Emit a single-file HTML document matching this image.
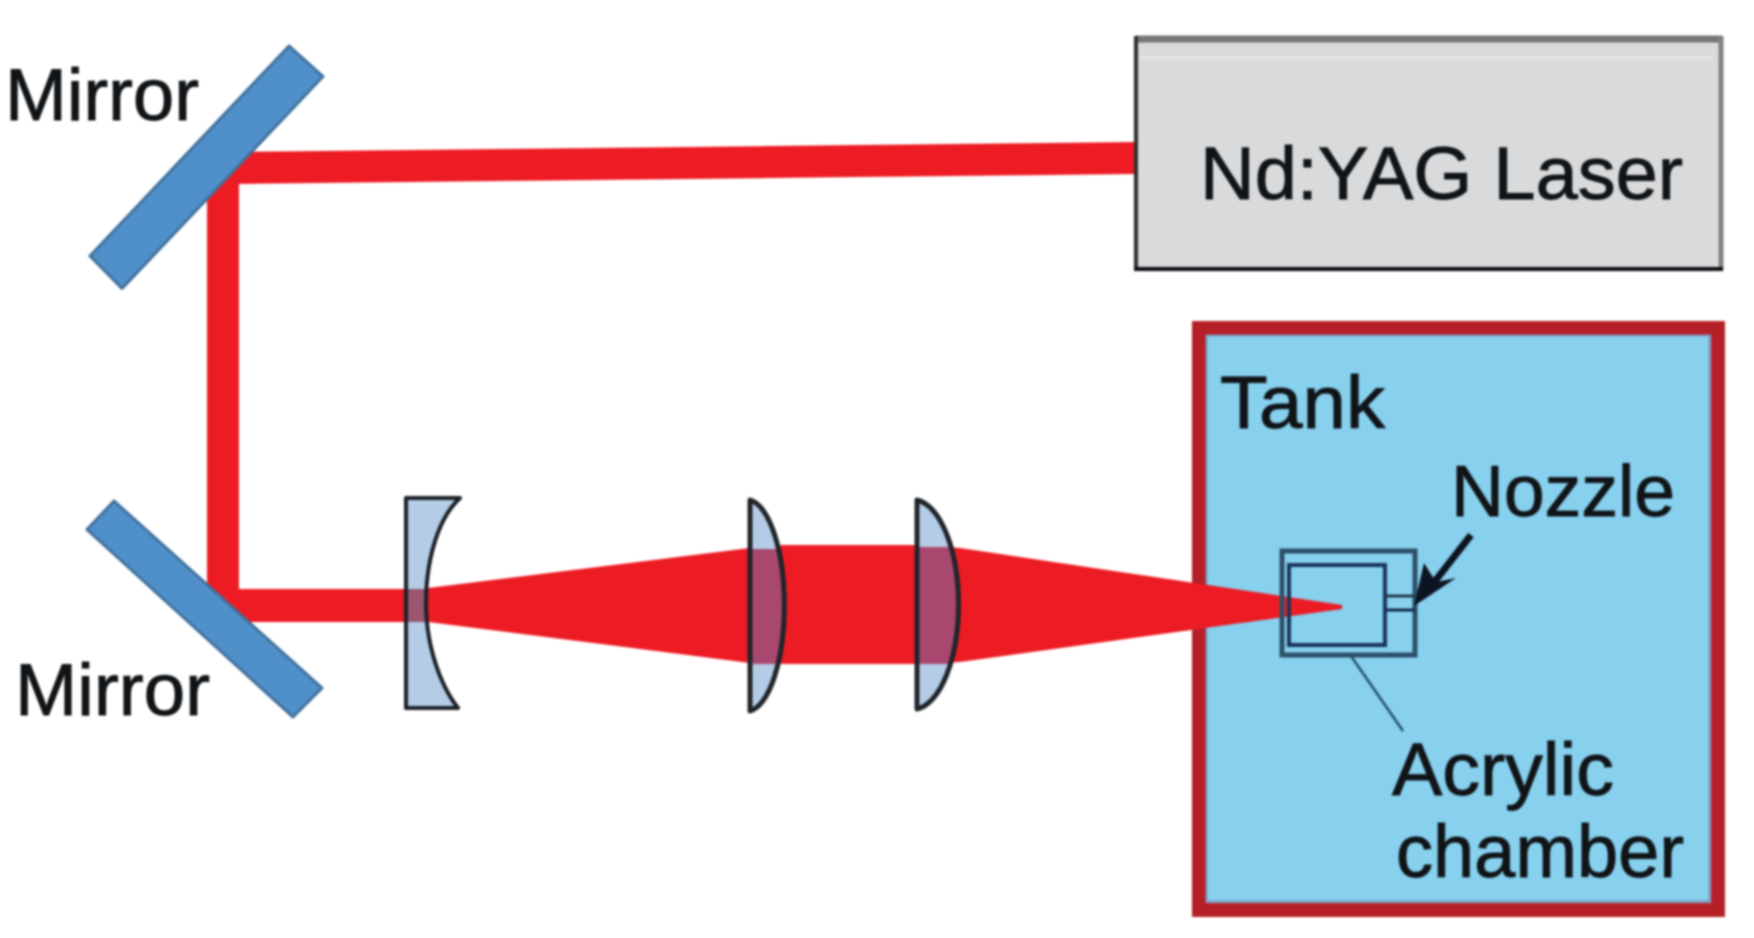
<!DOCTYPE html>
<html>
<head>
<meta charset="utf-8">
<style>
html,body{margin:0;padding:0;background:#fff;width:1754px;height:938px;overflow:hidden}
svg{display:block;filter:blur(1.1px)}
text{font-family:"Liberation Sans",Arial,sans-serif;fill:#101417;stroke:#101417;stroke-width:.9px}
</style>
</head>
<body>
<svg width="1754" height="938" viewBox="0 0 1754 938" xmlns="http://www.w3.org/2000/svg">
<defs>
<clipPath id="l1"><path d="M406 498L460 498C436 520 426 565 426 603C426 645 440 685 458 708L406 708Z"/></clipPath>
<clipPath id="l2"><path d="M750 500A38 106 0 0 1 750 711Z"/></clipPath>
<clipPath id="l3"><path d="M917 500A46 105 0 0 1 917 709Z"/></clipPath>
</defs>
<rect width="1754" height="938" fill="#fff"/>
<!-- Beam -->
<path d="M232 152L1136 142L1136 174L232 184Z" fill="#ed1c24"/>
<rect x="207" y="165" width="32" height="440" fill="#ed1c24"/>
<rect x="212" y="589" width="220" height="33" fill="#ed1c24"/>
<!-- Laser box -->
<rect x="1137" y="38" width="584" height="231" fill="#d9dadb"/>
<line x1="1136" y1="39" x2="1722" y2="39" stroke="#757877" stroke-width="7"/>
<line x1="1721" y1="36" x2="1721" y2="270" stroke="#808283" stroke-width="5"/>
<line x1="1136" y1="36" x2="1136" y2="270" stroke="#2b2d2f" stroke-width="4"/>
<line x1="1134" y1="269" x2="1723" y2="269" stroke="#0c0a0f" stroke-width="4"/>
<rect x="1141" y="56" width="572" height="3" fill="#e6e7e7"/>
<text x="1200" y="199" font-size="74" textLength="483" lengthAdjust="spacingAndGlyphs">Nd:YAG Laser</text>
<!-- Tank -->
<rect x="1199" y="328" width="519" height="582" fill="#87d0ee" stroke="#b51f27" stroke-width="14"/>
<rect x="1206.500" y="335.500" width="503" height="566" fill="none" stroke="#7d97bb" stroke-width="2"/>
<!-- Focused beam -->
<path d="M428 588L750 548L784 545L915 545L960 548L1342 605L1342 609L960 662L915 664L784 664L750 663L428 622Z" fill="#ed1c24"/>
<!-- Mirrors -->
<path d="M289 46L323 76.500L122 288.500L90 256Z" fill="#4f90cb" stroke="#41719c" stroke-width="3" stroke-linejoin="round"/>
<path d="M114 501L322 688L293 717L87 529.500Z" fill="#4f90cb" stroke="#41719c" stroke-width="3" stroke-linejoin="round"/>
<!-- Lenses -->
<path d="M406 498L460 498C436 520 426 565 426 603C426 645 440 685 458 708L406 708Z" fill="#b4cce6"/>
<rect x="400" y="589" width="40" height="33" fill="#9a5570" clip-path="url(#l1)"/>
<path d="M406 498L460 498C436 520 426 565 426 603C426 645 440 685 458 708L406 708Z" fill="none" stroke="#1a2027" stroke-width="4" stroke-linejoin="round"/>
<path d="M750 500A38 106 0 0 1 750 711Z" fill="#b4cce6"/>
<rect x="745" y="549" width="50" height="115" fill="#a9486f" clip-path="url(#l2)"/>
<path d="M750 500A38 106 0 0 1 750 711Z" fill="none" stroke="#20242a" stroke-width="5" stroke-linejoin="round"/>
<path d="M917 500A46 105 0 0 1 917 709Z" fill="#b4cce6"/>
<rect x="910" y="547" width="60" height="117" fill="#a9486f" clip-path="url(#l3)"/>
<path d="M917 500A46 105 0 0 1 917 709Z" fill="none" stroke="#20242a" stroke-width="5" stroke-linejoin="round"/>
<!-- Acrylic chamber -->
<rect x="1289" y="565" width="96" height="80" fill="none" stroke="#17345a" stroke-width="4"/>
<rect x="1282" y="551" width="133" height="104" fill="none" stroke="#2d5068" stroke-width="5"/>
<line x1="1386" y1="596" x2="1415" y2="596" stroke="#223c48" stroke-width="3"/>
<line x1="1386" y1="610" x2="1415" y2="610" stroke="#12294a" stroke-width="3"/>
<!-- Nozzle arrow -->
<line x1="1471" y1="535" x2="1432" y2="585" stroke="#0d1421" stroke-width="7"/>
<path d="M1414 606L1424 563L1436 582L1456 578Z" fill="#0d1421"/>
<!-- Leader -->
<line x1="1351" y1="656" x2="1403" y2="731" stroke="#234f68" stroke-width="2.500"/>
<!-- Labels -->
<text x="1220" y="428" font-size="74" textLength="165" lengthAdjust="spacingAndGlyphs">Tank</text>
<text x="1451" y="516" font-size="72" textLength="224" lengthAdjust="spacingAndGlyphs">Nozzle</text>
<text x="1392" y="795" font-size="74" textLength="222" lengthAdjust="spacingAndGlyphs">Acrylic</text>
<text x="1396" y="877" font-size="74" textLength="288" lengthAdjust="spacingAndGlyphs">chamber</text>
<text x="5" y="120" font-size="73" textLength="194" lengthAdjust="spacingAndGlyphs">Mirror</text>
<text x="15" y="715" font-size="73" textLength="195" lengthAdjust="spacingAndGlyphs">Mirror</text>
</svg>
</body>
</html>
